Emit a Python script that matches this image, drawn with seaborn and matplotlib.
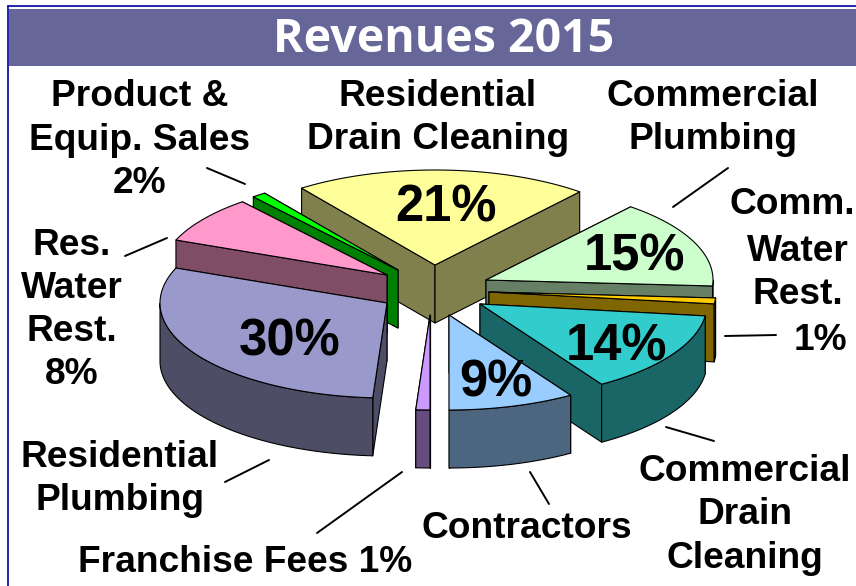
import numpy as np
import matplotlib
matplotlib.use("Agg")
import matplotlib.pyplot as plt
from matplotlib.patches import Polygon, Rectangle
import seaborn as sns

# values, clockwise from the left edge of the yellow slice
categories = ["Residential Drain Cleaning", "Commercial Plumbing", "Comm. Water Rest.",
              "Commercial Drain Cleaning", "Contractors", "Franchise Fees",
              "Residential Plumbing", "Res. Water Rest.", "Product & Equip. Sales"]
shares = [21, 15, 1, 14, 9, 1, 30, 8, 1]  # as drawn (the green sliver is about 1% wide)
colors = ["#FFFF99", "#CCFFCC", "#FFCC00", "#33CCCC", "#99CCFF",
          "#CC99FF", "#9999CC", "#FF99CC", "#00FF00"]

# slice tips in pixels (each slice is pulled out on its own)
tips = [(435, 265), (486, 280), (489, 292), (480, 304), (449, 315),
        (430, 315), (387, 303), (387, 275), (398, 270)]
draw_order = [0, 1, 2, 3, 4, 5, 8, 7, 6]

# big numbers printed on the slices
big_labels = [("21%", 446, 208), ("15%", 635, 257), ("14%", 617, 347),
              ("9%", 496, 383), ("30%", 290, 342)]

side_labels = [("Product &\nEquip. Sales\n2%", 140, 140),
               ("Residential\nDrain Cleaning", 438, 118),
               ("Commercial\nPlumbing", 713, 118),
               ("Comm.", 792, 205),
               ("Water\nRest.", 798, 273),
               ("1%", 820, 340),
               ("Res.\nWater\nRest.\n8%", 72, 310),
               ("Residential\nPlumbing", 120, 479),
               ("Franchise Fees 1%", 245, 562),
               ("Contractors", 527, 529),
               ("Commercial\nDrain\nCleaning", 745, 515)]

leaders = [((207, 168), (245, 184)), ((125, 256), (167, 238)), ((728, 168), (673, 207)),
           ((725, 336), (776, 335)), ((666, 427), (714, 441)), ((530, 472), (549, 504)),
           ((269, 460), (225, 482)), ((402, 472), (317, 533))]

RX, RY, DEPTH = 227, 95, 58
START = 126

sns.set_theme(style="white")
plt.rcParams["font.family"] = ["Liberation Sans", "DejaVu Sans"]

fig, ax = plt.subplots(figsize=(8.56, 5.86), dpi=100)
ax.set_position([0, 0, 1, 1])
ax.set_xlim(0, 856)
ax.set_ylim(586, 0)
ax.axis("off")

# header
ax.plot([8, 856], [6, 6], color="#0000A0", lw=1.2)
ax.plot([8, 8], [6, 586], color="#0000A0", lw=1.2)
ax.add_patch(Rectangle((9, 9), 847, 57, color="#666699", lw=0))
ax.text(444, 40, "Revenues 2015", color="white", fontsize=33.5, fontweight="bold",
        family="Open Sans", ha="center", va="center")


def rim(tip, theta):
    t = np.radians(theta)
    return np.column_stack([tip[0] + RX * np.cos(t), tip[1] - RY * np.sin(t)])


def draw_slice(tip, a0, a1, color):
    top = np.array(sns.color_palette([color])[0])
    dark = top * 0.5
    style = dict(edgecolor="black", lw=0.8, joinstyle="round")
    thetas = np.linspace(a0, a1, 80)
    arc = rim(tip, thetas)
    down = np.array([0, DEPTH])
    # straight walls at both cut edges, the one further back first
    for edge in sorted((arc[0], arc[-1]), key=lambda p: p[1]):
        quad = [tip, edge, edge + down, np.array(tip) + down]
        ax.add_patch(Polygon(quad, facecolor=dark, **style))
    # curved wall, front half only
    front = arc[np.sin(np.radians(thetas)) < 0]
    if len(front) > 1:
        wall = np.vstack([front, front[::-1] + down])
        ax.add_patch(Polygon(wall, facecolor=dark, **style))
    ax.add_patch(Polygon(np.vstack([[tip], arc]), facecolor=top, **style))


ends = START - np.cumsum(shares) * 360 / sum(shares)
starts = np.r_[START, ends[:-1]]
for i in draw_order:
    draw_slice(tips[i], starts[i], ends[i], colors[i])

for (x0, y0), (x1, y1) in leaders:
    ax.plot([x0, x1], [y0, y1], color="black", lw=1.4)

for txt, x, y in side_labels:
    ax.text(x, y, txt, fontsize=26.7, fontweight="bold", color="black",
            ha="center", va="center", linespacing=1.3, clip_on=True)

for txt, x, y in big_labels:
    ax.text(x, y, txt, fontsize=36.5, fontweight="bold", color="black",
            ha="center", va="center")

fig.savefig("out.png", dpi=100)
